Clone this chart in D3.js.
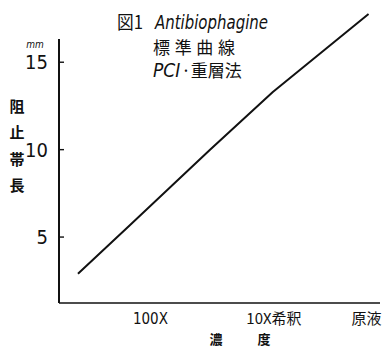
<!DOCTYPE html>
<html>
<head>
<meta charset="utf-8">
<script src="https://cdn.jsdelivr.net/npm/d3@7"></script>
<style>
  html, body { margin: 0; padding: 0; background: #fff; }
  svg { display: block; }
  .lat { font-family: "Liberation Sans Narrow", "DejaVu Sans Condensed", "Liberation Sans", sans-serif; }
  .cjk { font-family: "Noto Sans CJK JP", sans-serif; }
</style>
</head>
<body>
<svg id="chart" width="382" height="349"></svg>
<script>
// Standard curve: inhibition zone length (mm) against concentration (fraction of stock)
const concentration = [0.00214, 0.0065, 0.036, 0.139, 1.08];
const zoneLength    = [2.87, 5.65, 9.95, 13.27, 17.73];

const yTicks = [5, 10, 15];
const xTickValues = [0.01, 0.1, 1];
const xTickLabels = ["100X", "10X希釈", "原液"];

const svg = d3.select("#chart");
const ink = "#111";

const x = d3.scaleLog().domain([0.001426, 1.38]).range([59, 380]);
const y = d3.scaleLinear().domain([1.2, 16.3]).range([303, 39]);

// Y axis with short inward ticks
const yAxis = svg.append("g")
  .attr("transform", `translate(${x.range()[0]},0)`)
  .call(d3.axisLeft(y).tickValues(yTicks).tickSize(-5).tickPadding(11));
yAxis.select(".domain").attr("stroke", ink).attr("stroke-width", 2).attr("d", `M0,${y.range()[1]}V${y.range()[0]}`);
yAxis.selectAll(".tick line").attr("stroke", ink).attr("stroke-width", 1.4);
yAxis.selectAll(".tick text")
  .attr("class", "lat")
  .attr("fill", ink)
  .style("font-size", "20px")
  .attr("dy", "0.36em");

// X axis without tick marks
const xAxis = svg.append("g")
  .attr("transform", `translate(0,${y.range()[0]})`)
  .call(d3.axisBottom(x).tickValues(xTickValues).tickSize(0).tickPadding(0)
    .tickFormat((d, i) => xTickLabels[i]));
xAxis.select(".domain").attr("stroke", ink).attr("stroke-width", 1.6).attr("d", `M${x.range()[0]},0H${x.range()[1]}`);
xAxis.selectAll(".tick text")
  .attr("class", (d, i) => i === 0 ? "lat" : "cjk")
  .attr("fill", ink)
  .style("font-size", "15px")
  .attr("y", 0)
  .attr("dy", "21")
  .attr("dx", (d, i) => i === 1 ? 16 : (i === 2 ? 1 : 0));

// Curve
svg.append("path")
  .datum(concentration.map((c, i) => [c, zoneLength[i]]))
  .attr("fill", "none")
  .attr("stroke", ink)
  .attr("stroke-width", 2)
  .attr("stroke-linejoin", "round")
  .attr("d", d3.line().x(d => x(d[0])).y(d => y(d[1])));

// Unit
svg.append("text").attr("class", "lat")
  .attr("x", 35).attr("y", 48).attr("text-anchor", "middle")
  .style("font-size", "10px").style("font-style", "italic").attr("fill", ink)
  .text("mm");

// Vertical y-axis title
const yTitle = ["阻", "止", "帯", "長"];
const yTitlePos = [105, 131, 158, 184];
svg.append("g").selectAll("text").data(yTitle).join("text")
  .attr("class", "cjk")
  .attr("x", 17).attr("y", (d, i) => yTitlePos[i])
  .attr("text-anchor", "middle").attr("dominant-baseline", "central")
  .style("font-size", "15px").style("font-weight", "bold").attr("fill", ink)
  .text(d => d);

// X-axis title
svg.append("text").attr("class", "cjk")
  .attr("x", 216).attr("y", 338).attr("text-anchor", "middle").attr("dominant-baseline", "central")
  .style("font-size", "13px").style("font-weight", "bold").attr("fill", ink).text("濃");
svg.append("text").attr("class", "cjk")
  .attr("x", 264).attr("y", 338).attr("text-anchor", "middle").attr("dominant-baseline", "central")
  .style("font-size", "13px").style("font-weight", "bold").attr("fill", ink).text("度");

// Title block
const title = svg.append("g").attr("fill", ink);
title.append("text").attr("class", "cjk")
  .attr("x", 117).attr("y", 29).style("font-size", "18px")
  .attr("textLength", 26).attr("lengthAdjust", "spacingAndGlyphs")
  .text("図1");
title.append("text").attr("class", "lat")
  .attr("x", 155).attr("y", 29).style("font-size", "20px").style("font-style", "italic")
  .attr("textLength", 113).attr("lengthAdjust", "spacingAndGlyphs")
  .text("Antibiophagine");
title.append("text").attr("class", "cjk")
  .attr("x", 153).attr("y", 54).style("font-size", "17px")
  .attr("textLength", 82).attr("lengthAdjust", "spacing")
  .text("標準曲線");
const t3 = title.append("text").attr("x", 153).attr("y", 77);
t3.append("tspan").attr("class", "lat").style("font-size", "19px").style("font-style", "italic").text("PCI");
t3.append("tspan").attr("class", "cjk").style("font-size", "17px").attr("dx", 1).text("·重層法");
</script>
</body>
</html>
